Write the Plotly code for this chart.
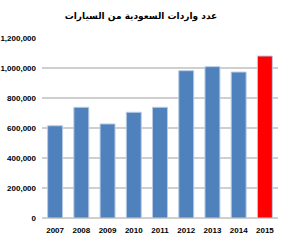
import plotly.graph_objects as go

years = ["2007", "2008", "2009", "2010", "2011", "2012", "2013", "2014", "2015"]
imports = [615000, 738000, 627000, 705000, 738000, 982000, 1009000, 973000, 1080000]
bar_colors = ["#4F81BD"] * 8 + ["#FF0000"]
y_ticks = [0, 200000, 400000, 600000, 800000, 1000000, 1200000]
y_labels = ["0", "200,000", "400,000", "600,000", "800,000", "1,000,000", "1,200,000"]
title_text = "عدد واردات السعودية من السيارات"

tick_font = dict(family="Liberation Sans", size=8, color="black", weight="bold")

fig = go.Figure(go.Bar(
    x=years, y=imports,
    marker=dict(color=bar_colors, line=dict(color="#B8CCE4", width=1)),
))
fig.update_layout(
    width=284, height=245,
    margin=dict(l=42, r=6, t=38, b=27),
    paper_bgcolor="white", plot_bgcolor="white",
    bargap=0.43,
    showlegend=False,
    title=dict(text="<b>" + title_text + "</b>", x=141 / 284, xanchor="center", y=1 - 16 / 245, yanchor="middle",
               font=dict(family="DejaVu Sans", size=9, color="black")),
    font=dict(family="Liberation Sans", size=9, color="black"),
)
fig.update_xaxes(type="category", showgrid=False, showline=False, ticks="",
                 ticklabelstandoff=6, automargin=False, tickfont=tick_font)
fig.update_yaxes(range=[0, 1200000], tickvals=y_ticks, ticktext=y_labels,
                 showgrid=True, gridcolor="#CFCFCF", gridwidth=1.5,
                 zeroline=True, zerolinecolor="#CFCFCF", zerolinewidth=1.5,
                 showline=False, ticks="", ticklen=0, ticklabelstandoff=5,
                 automargin=False, tickfont=tick_font)
fig.write_html("out.html")
